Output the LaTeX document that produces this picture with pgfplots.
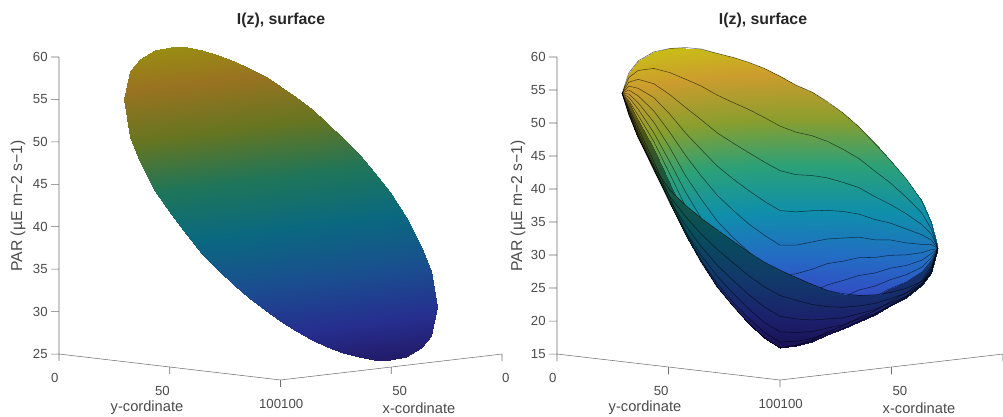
\documentclass[border=0pt]{standalone}
\usepackage{fontspec}
\setmainfont{Liberation Sans}
\usepackage{pgfplots}
\usepackage{pgfplotstable}
\pgfplotsset{compat=1.18}
\definecolor{axgray}{HTML}{6E6E6E}
\definecolor{txtgray}{HTML}{4A4A4A}
% surface heights: l = left panel, r = right panel; far half of the disc
\pgfplotstableread{
x y l r
85.4 14.6 55.0 54.5
85.4 14.6 55.0 54.5
85.4 14.6 55.0 54.5
85.4 14.6 55.0 54.5
85.4 14.6 55.0 54.5
85.4 14.6 55.0 54.5
85.4 14.6 55.0 54.5
85.4 14.6 55.0 54.5
85.4 14.6 55.0 54.5
74.0 6.2 57.7 56.8
75.2 7.4 57.3 56.2
76.5 8.7 56.9 55.6
77.7 9.9 56.5 55.1
78.9 11.1 56.1 54.6
80.2 12.4 55.7 54.1
81.4 13.6 55.3 53.7
82.7 14.9 54.9 53.3
83.9 16.1 54.5 53.0
66.4 2.8 58.8 58.2
68.3 4.7 58.2 56.9
70.2 6.6 57.5 55.7
72.2 8.6 56.9 54.5
74.1 10.5 56.3 53.5
76.0 12.4 55.6 52.6
77.9 14.3 55.0 51.8
79.9 16.3 54.4 51.0
81.8 18.2 53.7 50.4
57.1 0.5 59.5 59.1
59.7 3.1 58.6 56.8
62.4 5.8 57.8 54.7
65.0 8.4 56.9 52.8
67.7 11.1 56.0 51.0
70.3 13.7 55.1 49.5
73.0 16.4 54.3 48.1
75.6 19.0 53.4 47.0
78.3 21.7 52.5 46.0
49.4 0.0 59.6 59.3
52.6 3.2 58.6 55.9
55.8 6.4 57.5 52.8
58.9 9.5 56.5 50.1
62.1 12.7 55.4 47.6
65.2 15.8 54.4 45.5
68.4 19.0 53.4 43.6
71.5 22.1 52.3 42.0
74.7 25.3 51.3 40.8
42.9 0.5 59.4 59.2
46.5 4.1 58.2 54.7
50.0 7.6 57.1 50.7
53.5 11.1 55.9 47.1
57.1 14.7 54.7 44.0
60.6 18.2 53.6 41.2
64.1 21.7 52.4 39.0
67.7 25.3 51.2 37.1
71.2 28.8 50.1 35.7
37.1 1.7 58.9 58.8
40.9 5.5 57.7 53.5
44.7 9.3 56.4 48.7
48.6 13.2 55.1 44.5
52.4 17.0 53.9 40.8
56.2 20.8 52.6 37.6
60.0 24.6 51.4 35.0
63.9 28.5 50.1 32.9
67.7 32.3 48.8 31.3
31.7 3.5 58.3 58.0
35.7 7.5 57.0 52.0
39.8 11.6 55.6 46.6
43.8 15.6 54.3 41.9
47.9 19.7 52.9 37.8
51.9 23.7 51.6 34.2
56.0 27.8 50.3 31.3
60.0 31.8 48.9 29.1
64.1 35.9 47.6 27.4
26.9 5.7 57.5 57.3
31.1 9.9 56.1 50.8
35.3 14.1 54.7 45.0
39.5 18.3 53.3 39.9
43.7 22.5 52.0 35.5
48.0 26.8 50.6 31.7
52.2 31.0 49.2 28.6
56.4 35.2 47.8 26.2
60.6 39.4 46.4 24.5
22.5 8.3 56.6 56.5
26.8 12.6 55.2 49.7
31.1 16.9 53.7 43.5
35.4 21.2 52.3 38.1
39.8 25.6 50.9 33.4
44.1 29.9 49.4 29.5
48.4 34.2 48.0 26.2
52.8 38.6 46.6 23.7
57.1 42.9 45.2 21.9
18.3 11.3 55.6 55.5
22.7 15.7 54.1 48.4
27.1 20.1 52.6 42.0
31.5 24.5 51.2 36.4
35.9 28.9 49.7 31.6
40.3 33.3 48.3 27.4
44.7 37.7 46.8 24.1
49.1 42.1 45.4 21.5
53.5 46.5 43.9 19.6
14.6 14.6 54.4 54.3
19.1 19.1 52.9 47.1
23.5 23.5 51.5 40.7
27.9 27.9 50.0 35.0
32.3 32.3 48.5 30.1
36.7 36.7 47.1 25.9
41.2 41.2 45.6 22.5
45.6 45.6 44.2 19.9
50.0 50.0 42.7 18.0
11.3 18.3 53.1 53.0
15.7 22.7 51.6 46.2
20.1 27.1 50.2 40.1
24.5 31.5 48.7 34.8
28.9 35.9 47.3 30.1
33.3 40.3 45.8 26.1
37.7 44.7 44.4 22.9
42.1 49.1 42.9 20.3
46.5 53.5 41.5 18.5
8.3 22.5 51.7 52.0
12.6 26.8 50.3 45.7
16.9 31.1 48.8 40.0
21.2 35.4 47.4 35.0
25.6 39.8 46.0 30.6
29.9 44.1 44.5 26.8
34.2 48.4 43.1 23.7
38.6 52.8 41.7 21.3
42.9 57.1 40.3 19.5
5.7 26.9 50.2 50.6
9.9 31.1 48.8 44.9
14.1 35.3 47.4 39.7
18.3 39.5 46.0 35.1
22.5 43.7 44.6 31.1
26.8 48.0 43.2 27.7
31.0 52.2 41.8 24.8
35.2 56.4 40.4 22.5
39.4 60.6 39.0 20.8
3.5 31.7 48.5 49.0
7.5 35.7 47.2 43.8
11.6 39.8 45.8 39.1
15.6 43.8 44.5 35.0
19.7 47.9 43.1 31.3
23.7 51.9 41.8 28.1
27.8 56.0 40.5 25.5
31.8 60.0 39.1 23.3
35.9 64.1 37.8 21.7
1.7 37.1 46.7 47.0
5.5 40.9 45.4 42.5
9.3 44.7 44.2 38.4
13.2 48.6 42.9 34.7
17.0 52.4 41.6 31.5
20.8 56.2 40.4 28.7
24.6 60.0 39.1 26.3
28.5 63.9 37.8 24.4
32.3 67.7 36.6 22.9
0.5 42.9 44.7 44.7
4.1 46.5 43.5 40.8
7.6 50.0 42.4 37.2
11.1 53.5 41.2 34.0
14.7 57.1 40.0 31.2
18.2 60.6 38.9 28.8
21.7 64.1 37.7 26.7
25.3 67.7 36.5 25.0
28.8 71.2 35.4 23.7
0.0 49.4 42.5 42.4
3.2 52.6 41.4 39.2
6.4 55.8 40.4 36.2
9.5 58.9 39.3 33.6
12.7 62.1 38.3 31.3
15.8 65.2 37.3 29.2
19.0 68.4 36.2 27.5
22.1 71.5 35.2 26.0
25.3 74.7 34.1 24.9
0.5 57.1 39.9 39.9
3.1 59.7 39.0 37.3
5.8 62.4 38.2 35.0
8.4 65.0 37.3 32.9
11.1 67.7 36.4 31.0
13.7 70.3 35.5 29.4
16.4 73.0 34.7 28.0
19.0 75.6 33.8 26.8
21.7 78.3 32.9 25.9
2.8 66.4 36.8 37.0
4.7 68.3 36.1 35.3
6.6 70.2 35.5 33.7
8.6 72.2 34.9 32.3
10.5 74.1 34.2 31.0
12.4 76.0 33.6 29.9
14.3 77.9 33.0 28.9
16.3 79.9 32.3 28.0
18.2 81.8 31.7 27.4
6.2 74.0 34.2 34.2
7.4 75.2 33.8 33.3
8.7 76.5 33.4 32.6
9.9 77.7 33.0 31.8
11.1 78.9 32.6 31.2
12.4 80.2 32.2 30.5
13.6 81.4 31.8 30.0
14.9 82.7 31.4 29.5
16.1 83.9 30.9 29.1
14.6 85.4 30.5 31.0
14.6 85.4 30.5 31.0
14.6 85.4 30.5 31.0
14.6 85.4 30.5 31.0
14.6 85.4 30.5 31.0
14.6 85.4 30.5 31.0
14.6 85.4 30.5 31.0
14.6 85.4 30.5 31.0
14.6 85.4 30.5 31.0
}\tA
% near half of the disc
\pgfplotstableread{
x y l r
85.4 14.6 55.0 54.5
85.4 14.6 55.0 54.5
85.4 14.6 55.0 54.5
85.4 14.6 55.0 54.5
85.4 14.6 55.0 54.5
85.4 14.6 55.0 54.5
85.4 14.6 55.0 54.5
85.4 14.6 55.0 54.5
85.4 14.6 55.0 54.5
83.9 16.1 54.5 53.0
85.1 17.3 54.1 52.7
86.4 18.6 53.6 52.5
87.6 19.8 53.2 52.3
88.9 21.1 52.8 52.2
90.1 22.3 52.4 52.1
91.3 23.5 52.0 52.0
92.6 24.8 51.6 52.0
93.8 26.0 51.2 52.0
81.8 18.2 53.7 50.4
83.7 20.1 53.1 49.9
85.7 22.1 52.5 49.5
87.6 24.0 51.8 49.1
89.5 25.9 51.2 48.9
91.4 27.8 50.6 48.8
93.4 29.8 49.9 48.8
95.3 31.7 49.3 48.8
97.2 33.6 48.6 49.0
78.3 21.7 52.5 46.0
81.0 24.4 51.6 45.2
83.6 27.0 50.8 44.6
86.3 29.7 49.9 44.2
88.9 32.3 49.0 44.0
91.6 35.0 48.1 44.0
94.2 37.6 47.2 44.1
96.9 40.3 46.4 44.5
99.5 42.9 45.5 45.0
74.7 25.3 51.3 40.8
77.9 28.5 50.2 39.9
81.0 31.6 49.2 39.2
84.2 34.8 48.2 38.9
87.3 37.9 47.1 38.9
90.5 41.1 46.1 39.1
93.6 44.2 45.0 39.7
96.8 47.4 44.0 40.6
100.0 50.6 43.0 41.8
71.2 28.8 50.1 35.7
74.7 32.3 48.9 34.7
78.3 35.9 47.7 34.1
81.8 39.4 46.5 34.0
85.3 42.9 45.4 34.3
88.9 46.5 44.2 35.0
92.4 50.0 43.0 36.2
95.9 53.5 41.9 37.8
99.5 57.1 40.7 39.8
67.7 32.3 48.8 31.3
71.5 36.1 47.6 30.3
75.4 40.0 46.3 29.8
79.2 43.8 45.0 29.8
83.0 47.6 43.8 30.4
86.8 51.4 42.5 31.5
90.7 55.3 41.2 33.1
94.5 59.1 40.0 35.3
98.3 62.9 38.7 38.0
64.1 35.9 47.6 27.4
68.2 40.0 46.3 26.4
72.2 44.0 44.9 25.9
76.3 48.1 43.6 26.1
80.3 52.1 42.3 27.0
84.4 56.2 40.9 28.4
88.4 60.2 39.6 30.4
92.5 64.3 38.2 33.1
96.5 68.3 36.9 36.4
60.6 39.4 46.4 24.5
64.8 43.6 45.0 23.4
69.0 47.8 43.6 23.0
73.2 52.0 42.2 23.3
77.5 56.3 40.8 24.2
81.7 60.5 39.4 25.9
85.9 64.7 38.0 28.2
90.1 68.9 36.6 31.2
94.3 73.1 35.2 34.8
57.1 42.9 45.2 21.9
61.4 47.2 43.7 20.8
65.8 51.6 42.3 20.4
70.1 55.9 40.9 20.7
74.4 60.2 39.4 21.8
78.8 64.6 38.0 23.6
83.1 68.9 36.6 26.1
87.4 73.2 35.1 29.3
91.7 77.5 33.7 33.2
53.5 46.5 43.9 19.6
57.9 50.9 42.5 18.5
62.3 55.3 41.0 18.1
66.7 59.7 39.6 18.5
71.1 64.1 38.1 19.7
75.5 68.5 36.7 21.5
79.9 72.9 35.2 24.2
84.3 77.3 33.8 27.6
88.7 81.7 32.3 31.7
50.0 50.0 42.7 18.0
54.4 54.4 41.2 16.9
58.8 58.8 39.8 16.6
63.3 63.3 38.3 17.0
67.7 67.7 36.9 18.2
72.1 72.1 35.4 20.1
76.5 76.5 33.9 22.8
80.9 80.9 32.5 26.3
85.4 85.4 31.0 30.5
46.5 53.5 41.5 18.5
50.9 57.9 40.0 17.4
55.3 62.3 38.6 17.0
59.7 66.7 37.1 17.3
64.1 71.1 35.7 18.3
68.5 75.5 34.2 20.0
72.9 79.9 32.8 22.4
77.3 84.3 31.3 25.6
81.7 88.7 29.9 29.4
42.9 57.1 40.3 19.5
47.2 61.4 38.8 18.3
51.6 65.8 37.4 17.8
55.9 70.1 36.0 17.9
60.2 74.4 34.5 18.7
64.6 78.8 33.1 20.1
68.9 83.1 31.7 22.2
73.2 87.4 30.2 24.9
77.5 91.7 28.8 28.3
39.4 60.6 39.0 20.8
43.6 64.8 37.6 19.6
47.8 69.0 36.2 19.0
52.0 73.2 34.9 18.9
56.3 77.5 33.5 19.5
60.5 81.7 32.1 20.6
64.7 85.9 30.7 22.3
68.9 90.1 29.3 24.5
73.1 94.3 27.9 27.3
35.9 64.1 37.8 21.7
40.0 68.2 36.5 20.5
44.0 72.2 35.1 19.9
48.1 76.3 33.8 19.8
52.1 80.3 32.5 20.1
56.2 84.4 31.1 21.0
60.2 88.4 29.8 22.4
64.3 92.5 28.4 24.3
68.3 96.5 27.1 26.7
32.3 67.7 36.6 22.9
36.1 71.5 35.3 21.8
40.0 75.4 34.1 21.1
43.8 79.2 32.8 20.9
47.6 83.0 31.5 21.1
51.4 86.8 30.3 21.8
55.3 90.7 29.0 22.9
59.1 94.5 27.7 24.4
62.9 98.3 26.5 26.3
28.8 71.2 35.4 23.7
32.3 74.7 34.2 22.7
35.9 78.3 33.0 22.1
39.4 81.8 31.8 21.8
42.9 85.3 30.7 22.0
46.5 88.9 29.5 22.5
50.0 92.4 28.3 23.4
53.5 95.9 27.2 24.6
57.1 99.5 26.0 26.2
25.3 74.7 34.1 24.9
28.5 77.9 33.1 24.0
31.6 81.0 32.0 23.4
34.8 84.2 31.0 23.2
37.9 87.3 30.0 23.2
41.1 90.5 28.9 23.5
44.2 93.6 27.9 24.2
47.4 96.8 26.8 25.1
50.6 100.0 25.8 26.3
21.7 78.3 32.9 25.9
24.4 81.0 32.0 25.1
27.0 83.6 31.2 24.7
29.7 86.3 30.3 24.4
32.3 88.9 29.4 24.4
35.0 91.6 28.5 24.6
37.6 94.2 27.6 25.0
40.3 96.9 26.8 25.7
42.9 99.5 25.9 26.6
18.2 81.8 31.7 27.4
20.1 83.7 31.0 26.8
22.1 85.7 30.4 26.4
24.0 87.6 29.8 26.2
25.9 89.5 29.1 26.1
27.8 91.4 28.5 26.2
29.8 93.4 27.9 26.3
31.7 95.3 27.2 26.7
33.6 97.2 26.6 27.2
16.1 83.9 30.9 29.1
17.3 85.1 30.5 28.7
18.6 86.4 30.1 28.5
19.8 87.6 29.7 28.2
21.1 88.9 29.3 28.1
22.3 90.1 28.9 27.9
23.5 91.3 28.5 27.9
24.8 92.6 28.1 27.9
26.0 93.8 27.7 28.0
14.6 85.4 30.5 31.0
14.6 85.4 30.5 31.0
14.6 85.4 30.5 31.0
14.6 85.4 30.5 31.0
14.6 85.4 30.5 31.0
14.6 85.4 30.5 31.0
14.6 85.4 30.5 31.0
14.6 85.4 30.5 31.0
14.6 85.4 30.5 31.0
}\tB
\pgfplotsset{
  colormap={parRd}{rgb=(0.10,0.05,0.30) rgb=(0.11,0.12,0.42) rgb=(0.07,0.22,0.42) rgb=(0.03,0.30,0.36) rgb=(0.09,0.34,0.26) rgb=(0.28,0.33,0.10) rgb=(0.42,0.32,0.10) rgb=(0.42,0.42,0.03)},
  panel/.style={
    scale only axis,
    view={135}{7.05},
    xmin=0,xmax=100,ymin=0,ymax=100,
    xtick={0,50,100},ytick={0,50,100},
    yticklabels={\hspace*{9pt}0,\hspace*{4.5pt}50,100},
    clip=false,
    axis line style={draw=none},
    tick style={draw=none},
    major tick length=0pt,
    tick label style={font=\fontsize{9.9}{11}\selectfont,text=txtgray},
    yticklabel style={xshift=-1pt,yshift=-10.5pt},
    xticklabel style={xshift=2pt,yshift=-10.5pt},
    zticklabel style={xshift=-5pt},
    /pgf/number format/assume math mode=true,
  },
  sf/.style={surf,shader=interp,z buffer=sort,mesh/rows=23,mesh/cols=9,point meta=z,forget plot},
  sm/.style={no marks,black,line width=0.4pt,forget plot,opacity=0.6},
  ax/.style={draw=axgray,thin,no marks,forget plot,unbounded coords=jump},
}
\begin{document}
\begin{tikzpicture}[x=1pt,y=1pt]
\useasboundingbox (0,0) rectangle (752.25,312.75);
% left panel
\begin{axis}[panel,at={(44.25pt,27.75pt)},anchor=south west,width=332.25pt,height=261.75pt,
  zmin=25,zmax=60,ztick={25,30,...,60},xticklabels={0\hspace*{12pt},50\hspace*{5pt},100},
  point meta min=24.5,point meta max=61,
  colormap={parL}{rgb=(0.13,0.08,0.36) rgb=(0.15,0.18,0.56) rgb=(0.10,0.31,0.56) rgb=(0.04,0.41,0.50) rgb=(0.12,0.46,0.35) rgb=(0.40,0.46,0.13) rgb=(0.60,0.45,0.13) rgb=(0.60,0.59,0.05)}]
\addplot3[sf] table[x=x,y=y,z=l]{\tA};
\addplot3[sf] table[x=x,y=y,z=l]{\tB};
\addplot3[ax] coordinates {(100,0,60)(100,0,25)(100,100,25)(0,100,25)(nan,nan,nan)
 (100,0,60)(101.8,-1.8,60)(nan,nan,nan)(100,0,55)(101.8,-1.8,55)(nan,nan,nan)(100,0,50)(101.8,-1.8,50)(nan,nan,nan)(100,0,45)(101.8,-1.8,45)(nan,nan,nan)
 (100,0,40)(101.8,-1.8,40)(nan,nan,nan)(100,0,35)(101.8,-1.8,35)(nan,nan,nan)(100,0,30)(101.8,-1.8,30)(nan,nan,nan)(100,0,25)(101.8,-1.8,25)(nan,nan,nan)
 (100,0,25)(100,0,24.2)(nan,nan,nan)(100,50,25)(100,50,24.2)(nan,nan,nan)(100,100,25)(100,100,24.2)(nan,nan,nan)(50,100,25)(50,100,24.2)(nan,nan,nan)(0,100,25)(0,100,24.2)};
\end{axis}
% right panel
\begin{axis}[panel,at={(417.75pt,27.75pt)},anchor=south west,width=334.5pt,height=261.75pt,
  zmin=15,zmax=60,ztick={15,20,...,60},xticklabels={,50\hspace*{5pt},100},
  point meta min=15.5,point meta max=61,
  colormap={parR}{rgb=(0.19,0.12,0.52) rgb=(0.22,0.26,0.77) rgb=(0.14,0.42,0.77) rgb=(0.06,0.56,0.67) rgb=(0.17,0.63,0.47) rgb=(0.54,0.62,0.18) rgb=(0.80,0.61,0.18) rgb=(0.78,0.79,0.06)}]
\addplot3[sf] table[x=x,y=y,z=r]{\tA};
\pgfplotsinvokeforeach{0,...,8}{\addplot3[sm,x filter/.expression={mod(\coordindex,9)==#1 ? x : nan}] table[x=x,y=y,z=r]{\tA};}
\addplot3[sf,colormap name=parRd] table[x=x,y=y,z=r]{\tB};
\pgfplotsinvokeforeach{2,...,8}{\addplot3[sm,x filter/.expression={mod(\coordindex,9)==#1 ? x : nan}] table[x=x,y=y,z=r]{\tB};}
\addplot3[ax] coordinates {(100,0,60)(100,0,15)(100,100,15)(0,100,15)(nan,nan,nan)
 (100,0,60)(101.8,-1.8,60)(nan,nan,nan)(100,0,55)(101.8,-1.8,55)(nan,nan,nan)(100,0,50)(101.8,-1.8,50)(nan,nan,nan)(100,0,45)(101.8,-1.8,45)(nan,nan,nan)(100,0,40)(101.8,-1.8,40)(nan,nan,nan)
 (100,0,35)(101.8,-1.8,35)(nan,nan,nan)(100,0,30)(101.8,-1.8,30)(nan,nan,nan)(100,0,25)(101.8,-1.8,25)(nan,nan,nan)(100,0,20)(101.8,-1.8,20)(nan,nan,nan)(100,0,15)(101.8,-1.8,15)(nan,nan,nan)
 (100,0,15)(100,0,13.9)(nan,nan,nan)(100,50,15)(100,50,13.9)(nan,nan,nan)(100,100,15)(100,100,13.9)(nan,nan,nan)(50,100,15)(50,100,13.9)(nan,nan,nan)(0,100,15)(0,100,13.9)};
\end{axis}
% texts
\node[font=\bfseries\fontsize{11.9}{13}\selectfont,text=black!85] at (210.75,297.75) {I(z), surface};
\node[font=\bfseries\fontsize{11.9}{13}\selectfont,text=black!85] at (572.25,297.75) {I(z), surface};
\foreach \xx in {13.5,388.5}{\node[rotate=90,font=\fontsize{11.8}{13}\selectfont,text=txtgray] at (\xx,158.25) {PAR (µE m−2 s−1)};}
\foreach \xx in {110.25,483.75}{\node[font=\fontsize{11}{13}\selectfont,text=txtgray] at (\xx,6.75) {y-cordinate};}
\foreach \xx in {314.25,689.25}{\node[font=\fontsize{11}{13}\selectfont,text=txtgray] at (\xx,6.75) {x-cordinate};}
\end{tikzpicture}
\end{document}
